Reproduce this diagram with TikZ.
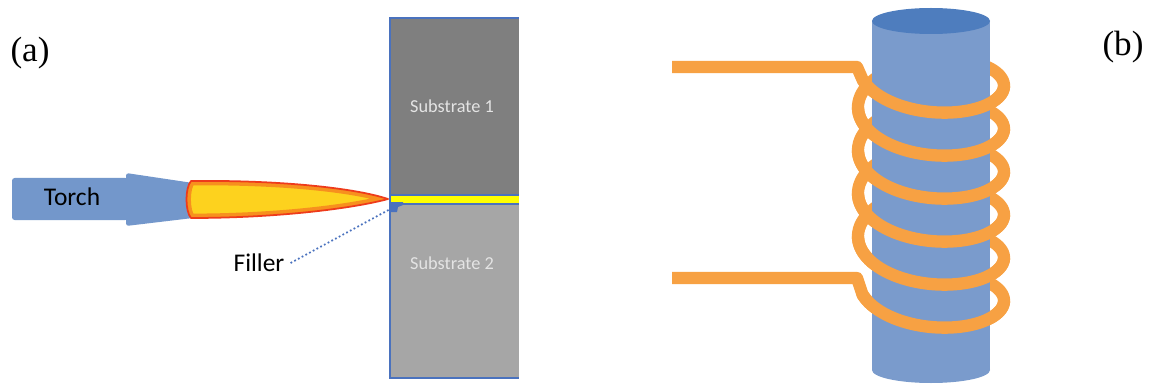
\documentclass[tikz,border=0pt]{standalone}
\usepackage{fontspec}
\setmainfont{Liberation Serif}
\newfontfamily\carlito{Carlito}
\usepackage{tikz}

\definecolor{torchblue}{HTML}{7397CB}
\definecolor{rodblue}{HTML}{7A9BCC}
\definecolor{rodtop}{HTML}{4E7DBE}
\definecolor{edgeblue}{HTML}{4A72BE}
\definecolor{coilorange}{HTML}{F7A143}
\definecolor{flamered}{HTML}{EE3B1B}
\definecolor{flameorange}{HTML}{F7901E}
\definecolor{flameyellow}{HTML}{FDD21E}
\definecolor{jointyellow}{HTML}{FFFF00}
\definecolor{subdark}{HTML}{7F7F7F}
\definecolor{sublight}{HTML}{A6A6A6}
\definecolor{subtext}{HTML}{E4E4E4}

\newcommand{\flameoutline}{(191,181) .. controls (280,180) and (355,188) .. (388,199) .. controls (355,208) and (280,218) .. (191,218) .. controls (185,211) and (185,188) .. (191,181) -- cycle}

\begin{document}
\begin{tikzpicture}[x=0.02cm, y=-0.02cm,
    coil/.style={draw=coilorange, line width=7pt, line join=round},
    tag/.style={font=\fontsize{20}{24}\selectfont},
    callout/.style={font=\carlito\fontsize{14.5}{17}\selectfont},
    sublabel/.style={text=subtext, font=\carlito\fontsize{10.4}{12}\selectfont}]
        \useasboundingbox (0,0) rectangle (1150,385);

        \node[tag] (taga) at (30,53) {(a)};
        \node[tag] (tagb) at (1123,47) {(b)};

        \fill[torchblue, rounded corners=1.5] (12,178) rectangle (128,220);
        \fill[torchblue, rounded corners=1.5] (126,173) -- (193,183) -- (193,218) -- (126,226) -- cycle;
        \node[callout] (torch) at (72,197) {Torch};

        \fill[flameyellow] \flameoutline;
        \begin{scope}
            \clip \flameoutline;
            \draw[flameorange, line width=5pt] \flameoutline;
        \end{scope}
        \draw[flamered, line width=1pt, line join=round] \flameoutline;

        \fill[subdark] (390,18) rectangle (519,195);
        \fill[jointyellow] (390,195) rectangle (519,204);
        \fill[sublight] (390,204) rectangle (519,378);
        \draw[edgeblue, line width=0.9pt] (519,18) -- (390,18) -- (390,378) -- (519,378);
        \draw[edgeblue, line width=0.9pt] (390,195) -- (519,195) (390,204) -- (519,204);
        \node[sublabel] (sub1) at (452,106) {Substrate 1};
        \node[sublabel] (sub2) at (452,263) {Substrate 2};

        \fill[edgeblue] (391,202) -- (403,202) -- (403,205) -- (398,207) -- (397,212) -- (391,212) -- cycle;
        \coordinate (joint) at (394,207);
        \node[callout] (filler) at (259,263) {Filler};
        \draw[edgeblue, line width=1pt, dash pattern=on 1pt off 1.4pt] (filler.east) -- (joint);

        % coil behind the rod, with its two leads
        \draw[coil] (672,67) -- (857,67) -- plot[domain=160:-1500, samples=400] ({931+73*cos(\x)}, {85.75+37*sin(\x)-43*\x/360});
        \draw[coil] (672,278) -- (857,278) -- plot[domain=-1640:-1880, samples=80] ({931+73*cos(\x)}, {85.75+37*sin(\x)-43*\x/360});

        \fill[rodblue] (872,21) rectangle (990,370);
        \fill[rodblue] (931,370) ellipse [x radius=59, y radius=13];
        \fill[rodtop] (931,21) ellipse [x radius=59, y radius=13];

        % front half of every turn
        \foreach \a/\b in {160/0, -180/-360, -540/-720, -900/-1080, -1260/-1440, -1640/-1800}
            \draw[coil] plot[domain=\a:\b, samples=80] ({931+73*cos(\x)}, {85.75+37*sin(\x)-43*\x/360});
    \end{tikzpicture}
\end{document}
